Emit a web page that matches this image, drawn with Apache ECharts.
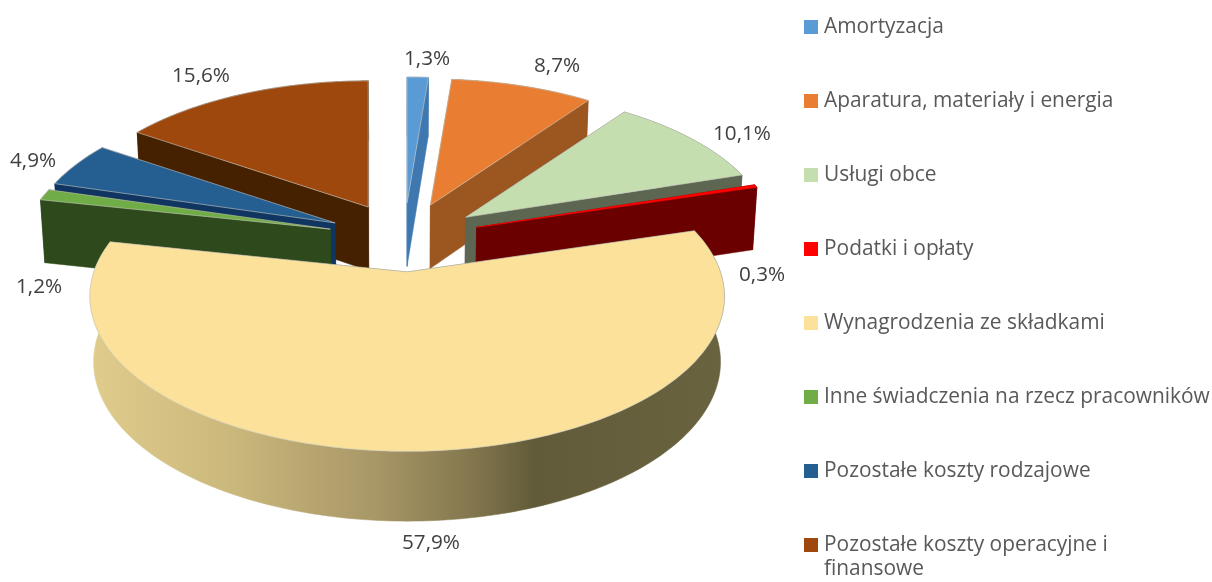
<!DOCTYPE html>
<html>
<head>
<meta charset="utf-8">
<style>
  html, body { margin: 0; padding: 0; background: #fff; }
  #main { width: 1212px; height: 582px; }
</style>
</head>
<body>
<div id="main"></div>
<script src="https://cdn.jsdelivr.net/npm/echarts@6/dist/echarts.min.js"></script>
<script>
// data
var categories = [
  "Amortyzacja",
  "Aparatura, materiały i energia",
  "Usługi obce",
  "Podatki i opłaty",
  "Wynagrodzenia ze składkami",
  "Inne świadczenia na rzecz pracowników",
  "Pozostałe koszty rodzajowe",
  "Pozostałe koszty operacyjne i finansowe",
];
var values = [1.3, 8.7, 10.1, 0.3, 57.9, 1.2, 4.9, 15.6];

// colours
var topColors = ["#5b9bd5", "#e97e32", "#c5deb0", "#ff0000", "#fbe199", "#70ad47", "#255e91", "#9e480e"];
var sideColors = ["#3f78b0", "#9c5620", "#5c6650", "#6b0000", "#6b6340", "#2e4a1c", "#0f3560", "#452100"];

// label centres, in the same order as categories
var labelPos = [[427, 59], [557, 66], [742, 134], [762, 275], [431, 543], [39, 287], [33, 161], [201, 76]];
// painter's order: back slices first, the big front slice last
var drawOrder = [0, 1, 2, 3, 7, 6, 5, 4];

// fake 3d geometry
var CX = 404, CY = 237.5;
var EX = 76, EY = 34.5; // explosion
var RX = 307, RY = 148; // radius
var PERSP = 0.155, PERSP_E = 0.02;
var DEPTH = 64, BOTTOM_SHRINK = 0.988;

var total = values.reduce(function (a, b) { return a + b; }, 0);
var starts = [];
values.reduce(function (sum, v, i) {
  starts[i] = sum;
  return sum + v;
}, 0);

function toAngle(v) {
  return (v / total) * Math.PI * 2;
}

// project a rim point of a slice; r = 0 is the slice's apex
function project(a, r, mid, low) {
  var w = 1 + PERSP * Math.cos(a) * r + PERSP_E * Math.cos(mid);
  var s = 1 / w;
  var x = CX + EX * Math.sin(mid) + (RX * Math.sin(a) * r) / w;
  var y = CY - EY * Math.cos(mid) - (RY * Math.cos(a) * r) / w;
  if (low) {
    x = CX + (x - CX) * BOTTOM_SHRINK;
    y += DEPTH * Math.pow(s, 0.45);
  }
  return [x, y];
}

function arc(a0, a1, mid, low) {
  var pts = [];
  var n = Math.max(2, Math.ceil(Math.abs(a1 - a0) / 0.02));
  for (var i = 0; i <= n; i++) {
    pts.push(project(a0 + ((a1 - a0) * i) / n, 1, mid, low));
  }
  return pts;
}

function poly(points, fill, stroke) {
  return {
    type: "polygon",
    shape: { points: points },
    style: { fill: fill, stroke: stroke || fill, lineWidth: stroke ? 0.6 : 0.5 },
  };
}

function renderSlice(idx) {
  return function (params, api) {
    var a0 = toAngle(starts[idx]);
    var a1 = a0 + toAngle(api.value(0));
    var mid = (a0 + a1) / 2;
    var side = sideColors[idx];
    var rimFill = side;
    if (idx === 4) {
      rimFill = new echarts.graphic.LinearGradient(0, 0, 1, 0, [
        { offset: 0, color: "#e0cc8c" },
        { offset: 0.22, color: "#cbb87c" },
        { offset: 0.45, color: "#a89767" },
        { offset: 0.6, color: "#84774e" },
        { offset: 0.7, color: "#625b39" },
        { offset: 1, color: "#6a6340" },
      ]);
    }
    var apexTop = project(a0, 0, mid, false);
    var apexLow = project(a0, 0, mid, true);
    var startTop = project(a0, 1, mid, false);
    var startLow = project(a0, 1, mid, true);
    var endTop = project(a1, 1, mid, false);
    var endLow = project(a1, 1, mid, true);
    var children = [
      poly([apexTop, startTop, startLow, apexLow], side),
      poly([apexTop, endTop, endLow, apexLow], side),
      poly(arc(a0, a1, mid, false).concat(arc(a1, a0, mid, true)), rimFill),
      poly([apexTop].concat(arc(a0, a1, mid, false)), topColors[idx], idx === 3 ? "#ff0000" : "#c9c9c0"),
      {
        type: "text",
        x: labelPos[idx][0],
        y: labelPos[idx][1],
        z2: 100,
        style: {
          text: api.value(0).toFixed(1).replace(".", ",") + "%",
          fill: "#404040",
          font: '20.7px "Open Sans"',
          align: "center",
          verticalAlign: "middle",
        },
      },
    ];
    return { type: "group", children: children };
  };
}

var series = drawOrder.map(function (idx, order) {
  return {
    type: "custom",
    name: categories[idx],
    coordinateSystem: "none",
    silent: true,
    z: 2 + order,
    itemStyle: { color: topColors[idx] },
    renderItem: renderSlice(idx),
    data: [[values[idx]]],
  };
});

var myChart = echarts.init(document.getElementById("main"), null, { renderer: "canvas" });
var option = {
  animation: false,
  backgroundColor: "#ffffff",
  legend: {
    show: true,
    orient: "vertical",
    left: 804,
    top: 15,
    padding: 0,
    itemWidth: 14,
    itemHeight: 14,
    itemGap: 50,
    icon: "rect",
    selectedMode: false,
    textStyle: {
      color: "#595959",
      fontFamily: "Open Sans",
      fontSize: 20.9,
      padding: [0, 0, 0, 1],
      lineHeight: 24,
    },
    formatter: function (name) {
      return name === categories[7] ? "Pozostałe koszty operacyjne i" : name;
    },
    data: categories,
  },
  graphic: [
    {
      type: "text",
      left: 824,
      top: 559,
      style: { text: "finansowe", fill: "#595959", font: '20.9px "Open Sans"' },
    },
  ],
  series: series,
};
myChart.setOption(option);
</script>
</body>
</html>
